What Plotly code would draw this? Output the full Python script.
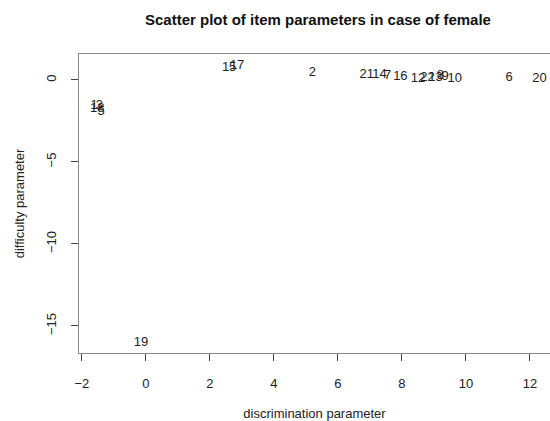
import plotly.graph_objects as go

labels = ["15", "17", "2", "21", "14", "7", "16", "12", "22", "13", "8", "9", "10", "6", "20", "19", "1", "3", "18", "5"]
discrimination = [2.6, 2.85, 5.2, 6.9, 7.3, 7.55, 7.95, 8.5, 8.8, 9.05, 9.2, 9.35, 9.65, 11.35, 12.3, -0.15, -1.62, -1.45, -1.52, -1.4]
difficulty = [0.75, 0.85, 0.45, 0.3, 0.3, 0.25, 0.2, 0.1, 0.15, 0.15, 0.25, 0.2, 0.1, 0.15, 0.1, -16.0, -1.55, -1.6, -1.75, -1.95]

x_ticks = [-2, 0, 2, 4, 6, 8, 10, 12]
y_ticks = [0, -5, -10, -15]

fig = go.Figure(go.Scatter(
    x=discrimination, y=difficulty, text=labels, mode="text",
    textposition="middle center", cliponaxis=False,
    textfont=dict(family="Liberation Sans, Arial", size=13, color="#222"),
    hoverinfo="skip", showlegend=False))

fig.update_layout(
    width=550, height=421,
    margin=dict(l=79, r=0, t=54, b=68, autoexpand=False),
    paper_bgcolor="white", plot_bgcolor="white",
    font=dict(family="Liberation Sans, Arial", size=13, color="#222"),
    annotations=[dict(text="<b>Scatter plot of item parameters in case of female</b>",
                      xref="paper", yref="paper", x=0.507, y=1.117,
                      xanchor="center", yanchor="middle", showarrow=False,
                      font=dict(size=15, color="#111"))],
)
fig.update_xaxes(
    range=[-2.09, 12.625], tickvals=x_ticks, ticks="outside", ticklen=7,
    tickcolor="#444", showgrid=False, zeroline=False, showline=True,
    linecolor="#888", linewidth=1, mirror=True, automargin=False,
    tickfont=dict(size=13), ticklabelstandoff=11,
    title=dict(text="discrimination parameter", standoff=30, font=dict(size=13)))
fig.update_yaxes(
    range=[-16.65, 1.585], tickvals=y_ticks, ticks="outside", ticklen=7,
    tickcolor="#444", showgrid=False, zeroline=False, showline=True,
    linecolor="#888", linewidth=1, mirror=False, tickangle=-90, automargin=False,
    tickfont=dict(size=13), ticklabelstandoff=10,
    title=dict(text="difficulty parameter", standoff=16, font=dict(size=13)))

fig.write_html("out.html", config={"displayModeBar": False},
               post_script="document.body.style.margin='0';document.body.style.overflow='hidden';")
